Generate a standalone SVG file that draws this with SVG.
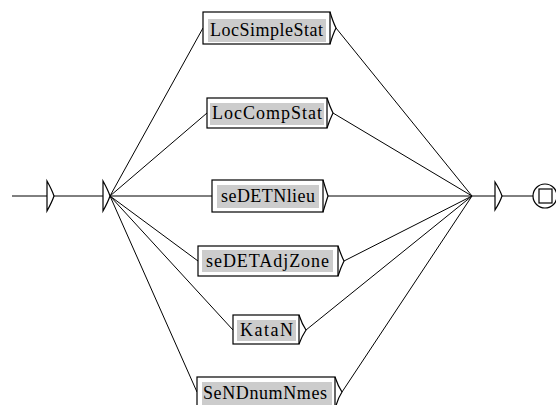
<svg xmlns="http://www.w3.org/2000/svg" width="556" height="405" viewBox="0 0 556 405">
<style>
.ln{fill:none;stroke:#000;stroke-width:1}
.frame{fill:#fff;stroke:#000;stroke-width:1.2}
.bg{fill:#cccccc;stroke:none}
.br{fill:none;stroke:#000;stroke-width:1.2}
.tri{fill:#fff;stroke:#000;stroke-width:1.2}
text{font-family:"Liberation Serif","Times New Roman",serif;font-size:18px;fill:#000}
</style>
<rect width="556" height="405" fill="#fff"/>
<g id="connectors" class="ln">
<line x1="12" y1="196" x2="47" y2="196"/>
<line x1="54" y1="196" x2="103" y2="196"/>
<line x1="110" y1="196" x2="203" y2="28"/>
<line x1="110" y1="196" x2="207" y2="113"/>
<line x1="110" y1="196" x2="212" y2="196"/>
<line x1="110" y1="196" x2="198" y2="261"/>
<line x1="110" y1="196" x2="233" y2="330"/>
<line x1="110" y1="196" x2="197" y2="392"/>
<line x1="336" y1="28" x2="472" y2="196"/>
<line x1="333" y1="113" x2="472" y2="196"/>
<line x1="328" y1="196" x2="472" y2="196"/>
<line x1="344" y1="261" x2="472" y2="196"/>
<line x1="306" y1="330" x2="472" y2="196"/>
<line x1="342" y1="392" x2="472" y2="196"/>
<line x1="472" y1="196" x2="495" y2="196"/>
<line x1="502" y1="196" x2="533" y2="196"/>
</g>
<g id="start">
<path class="tri" d="M47,181 Q52,190 54,196 Q52,202 47,211 Z"/>
</g>
<g id="fanin">
<path class="tri" d="M103,181 Q108,190 110,196 Q108,202 103,211 Z"/>
</g>
<g id="n1">
<rect class="frame" x="203" y="12" width="127" height="32"/>
<rect class="bg" x="208" y="19" width="118" height="23"/>
<path class="br" d="M330,12 Q333,22 336,28 Q333,34 330,44"/>
<text x="210" y="36" textLength="113" lengthAdjust="spacing">LocSimpleStat</text>
</g>
<g id="n2">
<rect class="frame" x="207" y="98" width="120" height="30"/>
<rect class="bg" x="210" y="103" width="114" height="22"/>
<path class="br" d="M327,98 Q330,107 333,113 Q330,119 327,128"/>
<text x="212" y="119" textLength="110" lengthAdjust="spacing">LocCompStat</text>
</g>
<g id="n3">
<rect class="frame" x="212" y="180" width="111" height="32"/>
<rect class="bg" x="217" y="185" width="102" height="23"/>
<path class="br" d="M323,180 Q326,190 328,196 Q326,202 323,212"/>
<text x="221" y="202" textLength="94" lengthAdjust="spacing">seDETNlieu</text>
</g>
<g id="n4">
<rect class="frame" x="198" y="246" width="140" height="30"/>
<rect class="bg" x="202" y="250" width="131" height="22"/>
<path class="br" d="M338,246 Q341,255 344,261 Q341,267 338,276"/>
<text x="206" y="267" textLength="123" lengthAdjust="spacing">seDETAdjZone</text>
</g>
<g id="n5">
<rect class="frame" x="233" y="315" width="66" height="29"/>
<rect class="bg" x="237" y="320" width="59" height="21"/>
<path class="br" d="M299,315 Q302,324 306,330 Q302,336 299,344"/>
<text x="240" y="336" textLength="53" lengthAdjust="spacing">KataN</text>
</g>
<g id="n6">
<rect class="frame" x="197" y="377" width="138" height="32"/>
<rect class="bg" x="202" y="382" width="130" height="24"/>
<path class="br" d="M335,377 Q338,386 342,392 Q338,398 335,409"/>
<text x="203" y="399" textLength="124" lengthAdjust="spacing">SeNDnumNmes</text>
</g>
<g id="fanout">
<path class="tri" d="M495,182 Q500,190 502,196 Q500,202 495,210 Z"/>
</g>
<g id="end">
<circle cx="545" cy="196" r="12" fill="#fff" stroke="#000" stroke-width="1.2"/>
<rect x="539" y="189" width="13" height="14" fill="#fff" stroke="#000" stroke-width="1.2"/>
</g>
</svg>
